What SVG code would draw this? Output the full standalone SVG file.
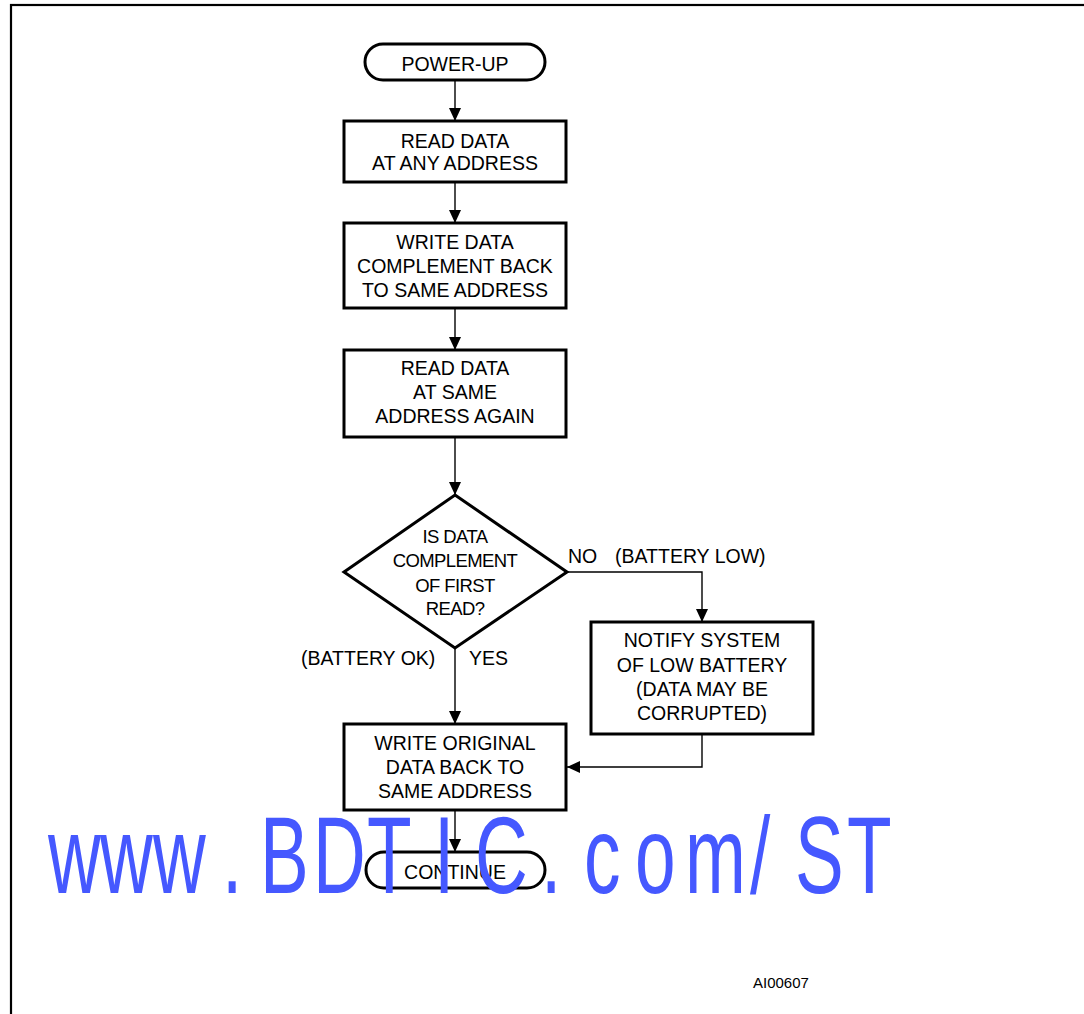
<svg xmlns="http://www.w3.org/2000/svg" width="1084" height="1014" viewBox="0 0 1084 1014">
<defs>
<style>
.box{fill:#fff;stroke:#000;stroke-width:3}
.ln{fill:none;stroke:#000;stroke-width:1.4}
.t{font-family:"Liberation Sans",Arial,sans-serif;font-size:19.5px;fill:#000;text-anchor:middle}
.td{font-family:"Liberation Sans",Arial,sans-serif;font-size:18.5px;letter-spacing:-0.6px;fill:#000;text-anchor:middle}
.tl{font-family:"Liberation Sans",Arial,sans-serif;font-size:19.5px;fill:#000}
.wm{font-family:"Liberation Sans",Arial,sans-serif;font-size:109px;fill:#4558FF}
</style>
<marker id="ah" viewBox="0 0 13 12" refX="13" refY="6" markerWidth="13" markerHeight="12" markerUnits="userSpaceOnUse" orient="auto">
<path d="M0,0 L13,6 L0,12 z" fill="#000"/>
</marker>
</defs>
<rect x="0" y="0" width="1084" height="1014" fill="#fff"/>
<rect x="11" y="5" width="1100" height="1100" fill="none" stroke="#000" stroke-width="2.2"/>

<g id="connectors">
<path class="ln" d="M455,80 V121" marker-end="url(#ah)"/>
<path class="ln" d="M455,182 V223" marker-end="url(#ah)"/>
<path class="ln" d="M455,308 V350" marker-end="url(#ah)"/>
<path class="ln" d="M455,437 V495" marker-end="url(#ah)"/>
<path class="ln" d="M567,572 H702 V622" marker-end="url(#ah)"/>
<path class="ln" d="M455,648 V724" marker-end="url(#ah)"/>
<path class="ln" d="M702,734 V767 H567" marker-end="url(#ah)"/>
<path class="ln" d="M455,810 V852" marker-end="url(#ah)"/>
<text class="tl" x="568" y="563">NO</text>
<text class="tl" x="615" y="563">(BATTERY LOW)</text>
<text class="tl" x="301" y="665">(BATTERY OK)</text>
<text class="tl" x="469" y="665">YES</text>
</g>

<g id="powerup">
<rect class="box" x="365" y="44" width="180" height="36" rx="18"/>
<text class="t" x="455" y="71">POWER-UP</text>
</g>
<g id="read1">
<rect class="box" x="344" y="121" width="222" height="61"/>
<text class="t" x="455" y="148">READ DATA</text>
<text class="t" x="455" y="170">AT ANY ADDRESS</text>
</g>
<g id="write1">
<rect class="box" x="344" y="223" width="222" height="85"/>
<text class="t" x="455" y="249">WRITE DATA</text>
<text class="t" x="455" y="273">COMPLEMENT BACK</text>
<text class="t" x="455" y="297">TO SAME ADDRESS</text>
</g>
<g id="read2">
<rect class="box" x="344" y="350" width="222" height="87"/>
<text class="t" x="455" y="375">READ DATA</text>
<text class="t" x="455" y="399">AT SAME</text>
<text class="t" x="455" y="423">ADDRESS AGAIN</text>
</g>
<g id="decision">
<polygon class="box" points="455,495 567,572 455,648 344,572"/>
<text class="td" x="455" y="543">IS DATA</text>
<text class="td" x="455" y="567">COMPLEMENT</text>
<text class="td" x="455" y="592">OF FIRST</text>
<text class="td" x="455" y="615">READ?</text>
</g>
<g id="notify">
<rect class="box" x="591" y="622" width="222" height="112"/>
<text class="t" x="702" y="647">NOTIFY SYSTEM</text>
<text class="t" x="702" y="672">OF LOW BATTERY</text>
<text class="t" x="702" y="696">(DATA MAY BE</text>
<text class="t" x="702" y="720">CORRUPTED)</text>
</g>
<g id="write2">
<rect class="box" x="344" y="724" width="222" height="86"/>
<text class="t" x="455" y="750">WRITE ORIGINAL</text>
<text class="t" x="455" y="774">DATA BACK TO</text>
<text class="t" x="455" y="798">SAME ADDRESS</text>
</g>
<g id="continue">
<rect class="box" x="366" y="852" width="179" height="36" rx="18"/>
<text class="t" x="455" y="879">CONTINUE</text>
</g>
<text id="ref" x="753" y="988" font-family="Liberation Sans, Arial, sans-serif" font-size="15" fill="#000">AI00607</text>
<text id="watermark" class="wm" transform="scale(0.67 1)" y="893" x="71.6 149.3 228.4 331.3 388.1 467.2 547.8 647.8 709 807.5 871.6 947.8 1022.4 1119.4 1186.6 1264.2">www.BDTIC.com/ST</text>
</svg>
